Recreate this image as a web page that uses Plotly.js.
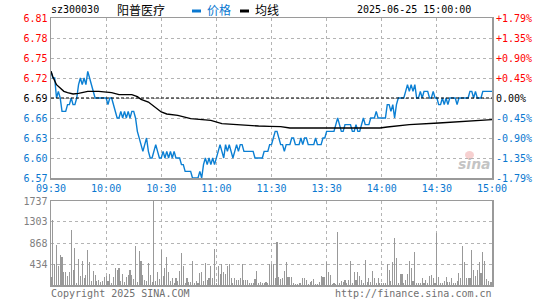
<!DOCTYPE html>
<html><head><meta charset="utf-8">
<script src="https://cdn.plot.ly/plotly-3.0.1.min.js"></script>
<style>html,body{margin:0;padding:0;background:#fff}#chart{width:545px;height:300px}</style>
</head><body><div id="chart"></div>
<script>
// ---------- data ----------
const timeLabels = ['09:30','10:00','10:30','11:00','11:30','13:30','14:00','14:30','15:00'];
const timeTickIdx = [0,30,60,90,120,150,180,210,240];
const prevClose = 6.69;
const priceTicks = [6.57,6.60,6.63,6.66,6.69,6.72,6.75,6.78,6.81];
const pctLabels = ['-1.79%','-1.35%','-0.90%','-0.45%','0.00%','+0.45%','+0.90%','+1.35%','+1.79%'];
const volTicks = [434,868,1303,1737];

const price = [
 6.73,6.72,6.72,6.69,6.70,6.69,6.67,6.67,6.67,6.68,
 6.68,6.69,6.68,6.68,6.69,6.71,6.72,6.71,6.72,6.71,
 6.73,6.72,6.71,6.70,6.69,6.69,6.69,6.69,6.69,6.69,
 6.69,6.68,6.69,6.69,6.68,6.67,6.66,6.66,6.67,6.66,
 6.67,6.66,6.67,6.66,6.67,6.67,6.66,6.64,6.63,6.62,
 6.61,6.62,6.63,6.61,6.60,6.60,6.61,6.62,6.61,6.60,
 6.60,6.61,6.60,6.61,6.60,6.61,6.60,6.61,6.60,6.60,
 6.60,6.59,6.59,6.58,6.58,6.58,6.58,6.57,6.57,6.57,
 6.57,6.58,6.57,6.59,6.60,6.59,6.60,6.59,6.60,6.59,
 6.60,6.61,6.62,6.61,6.60,6.62,6.61,6.62,6.61,6.60,
 6.61,6.62,6.61,6.62,6.62,6.61,6.61,6.61,6.61,6.61,
 6.61,6.60,6.60,6.60,6.60,6.60,6.61,6.61,6.61,6.62,
 6.62,6.63,6.64,6.64,6.63,6.62,6.62,6.61,6.62,6.62,
 6.62,6.63,6.63,6.62,6.62,6.62,6.63,6.62,6.63,6.63,
 6.62,6.62,6.62,6.62,6.63,6.62,6.62,6.62,6.63,6.63,
 6.64,6.64,6.64,6.64,6.64,6.65,6.66,6.65,6.64,6.64,
 6.65,6.65,6.65,6.65,6.64,6.64,6.65,6.64,6.64,6.65,
 6.66,6.65,6.65,6.65,6.66,6.66,6.66,6.67,6.66,6.66,
 6.66,6.66,6.66,6.68,6.68,6.67,6.68,6.66,6.68,6.69,
 6.69,6.69,6.69,6.70,6.71,6.70,6.71,6.70,6.71,6.69,
 6.69,6.70,6.69,6.70,6.70,6.70,6.69,6.69,6.70,6.69,
 6.69,6.68,6.68,6.69,6.68,6.69,6.68,6.69,6.69,6.69,
 6.69,6.68,6.69,6.69,6.69,6.69,6.69,6.69,6.70,6.70,
 6.69,6.70,6.69,6.69,6.69,6.70,6.70,6.70,6.70,6.70,
 6.70
];

const avgIdx = [0,1,3,5,7,9,12,15,18,20,26,33,37,44,47,49,53,56,59,60,63,69,76,87,93,105,113,119,125,130,179,183,195,211,229,240];
const avgVal = [6.73,6.722,6.71,6.705,6.70,6.698,6.696,6.697,6.699,6.70,6.70,6.698,6.695,6.695,6.692,6.688,6.684,6.678,6.672,6.669,6.666,6.664,6.659,6.6565,6.6515,6.649,6.648,6.6475,6.647,6.645,6.645,6.6465,6.650,6.6525,6.6555,6.6575];

const volume = [
 158,1350,434,827,400,620,585,262,276,180,
 276,1144,317,765,41,544,193,503,152,214,
 730,482,90,296,214,90,110,69,90,172,
 193,90,220,41,172,358,317,344,90,234,
 55,158,214,317,207,120,813,69,710,503,
 200,110,90,455,200,60,1737,90,276,124,
 730,180,344,585,276,90,138,41,138,90,
 296,661,386,41,152,69,55,496,41,90,
 41,248,262,90,450,110,152,400,150,744,
 41,386,220,434,276,220,400,434,138,41,
 138,110,110,152,434,110,110,110,41,41,
 41,124,296,41,69,41,41,69,41,434,
 434,440,150,880,158,124,138,296,468,158,
 172,172,41,21,21,41,41,152,138,110,
 21,69,90,124,21,21,69,193,158,158,
 482,262,214,21,41,21,1102,41,90,55,
 110,41,110,503,41,276,110,276,193,110,
 41,524,69,138,69,296,152,41,138,41,
 41,41,41,434,317,90,482,965,565,41,
 234,234,41,110,234,490,358,90,680,41,
 41,41,152,41,110,41,193,214,152,41,
 1075,172,41,41,90,172,69,69,152,41,
 41,90,248,150,813,482,138,152,138,730,
 317,193,317,482,248,689,503,120,90,60,
 60
];

// ---------- layout helpers (pixel -> paper) ----------
const W = 545, H = 300, ML = 51, MR = 53, MT = 18, MB = 15;
const PW = W - ML - MR, PH = H - MT - MB;
const px = x => (x - ML) / PW;
const py = y => (H - MB - y) / PH;

const RED = '#ff0000', BLUE = '#0a78d0', GRAY = '#808080';
const MONO = 'DejaVu Sans Mono, monospace';
const CJK = 'Noto Sans CJK SC, sans-serif';

const idx = price.map((_, i) => i);
const colorFor = v => v > prevClose + 1e-9 ? RED : (v < prevClose - 1e-9 ? BLUE : '#000');
const leftText = priceTicks.map(v => '<span style="color:' + colorFor(v) + '">' + v.toFixed(2) + '</span>');

const gridCommon = {gridcolor: '#b4b4b4', griddash: 'dot', gridwidth: 1, zeroline: false,
  showline: true, mirror: true, linecolor: '#9a9a9a', linewidth: 1.5, ticks: ''};

const traces = [
  {x: idx, y: price, type: 'scatter', mode: 'lines', xaxis: 'x', yaxis: 'y',
   line: {color: '#0b7fd3', width: 1.4}, hoverinfo: 'skip'},
  {x: avgIdx, y: avgVal, type: 'scatter', mode: 'lines', xaxis: 'x', yaxis: 'y',
   line: {color: '#000', width: 1.4}, hoverinfo: 'skip'},
  {x: idx, y: volume, type: 'bar', xaxis: 'x2', yaxis: 'y3', width: 0.6,
   marker: {color: '#999999', line: {width: 0}}, hoverinfo: 'skip'}
];

const pctAnnotations = priceTicks.map((v, k) => ({
  text: pctLabels[k], xref: 'paper', yref: 'y', x: px(494), y: v, xanchor: 'left', yanchor: 'middle',
  showarrow: false, font: {family: MONO, size: 10, color: colorFor(v)}
}));

const layout = {
  width: W, height: H, margin: {l: ML, r: MR, t: MT, b: MB},
  paper_bgcolor: '#fff', plot_bgcolor: '#fff', showlegend: false, bargap: 0,
  font: {family: MONO, size: 10, color: '#000'},
  xaxis: Object.assign({}, gridCommon, {domain: [0, 1], anchor: 'y', range: [0, 240],
    tickmode: 'array', tickvals: timeTickIdx, ticktext: timeLabels,
    tickfont: {family: MONO, size: 10, color: BLUE}}),
  yaxis: Object.assign({}, gridCommon, {domain: [py(178), 1], anchor: 'x', range: [6.57, 6.81],
    tickmode: 'array', tickvals: priceTicks, ticktext: leftText,
    tickfont: {family: MONO, size: 10}}),
  xaxis2: Object.assign({}, gridCommon, {domain: [0, 1], anchor: 'y3', matches: 'x', range: [0, 240],
    tickmode: 'array', tickvals: timeTickIdx, showticklabels: false}),
  yaxis3: Object.assign({}, gridCommon, {domain: [0, py(201)], anchor: 'x2', range: [0, 1737],
    tickmode: 'array', tickvals: volTicks, ticktext: volTicks.map(String),
    tickfont: {family: MONO, size: 10, color: GRAY}}),
  shapes: [
    {type: 'line', xref: 'x', yref: 'y', x0: 0, x1: 240, y0: prevClose, y1: prevClose,
     line: {color: '#000', width: 1.2, dash: '3px,2px'}},
    {type: 'rect', xref: 'paper', yref: 'paper', x0: px(192), x1: px(201), y0: py(12.5), y1: py(9.5),
     fillcolor: BLUE, line: {width: 0}},
    {type: 'rect', xref: 'paper', yref: 'paper', x0: px(240), x1: px(249), y0: py(12.5), y1: py(9.5),
     fillcolor: '#000', line: {width: 0}},
    {type: 'circle', xref: 'paper', yref: 'paper', x0: px(465), x1: px(474), y0: py(159), y1: py(151),
     fillcolor: 'rgba(235,150,150,0.45)', line: {width: 0}}
  ],
  annotations: pctAnnotations.concat([
    {text: 'sz300030', xref: 'paper', yref: 'paper', x: px(49), y: py(10), xanchor: 'left', yanchor: 'middle',
     showarrow: false, font: {family: MONO, size: 10, color: '#000'}},
    {text: '阳普医疗', xref: 'paper', yref: 'paper', x: px(115), y: py(10), xanchor: 'left', yanchor: 'middle',
     showarrow: false, font: {family: CJK, size: 12, color: '#000'}},
    {text: '价格', xref: 'paper', yref: 'paper', x: px(205), y: py(10), xanchor: 'left', yanchor: 'middle',
     showarrow: false, font: {family: CJK, size: 12, color: BLUE}},
    {text: '均线', xref: 'paper', yref: 'paper', x: px(253), y: py(10), xanchor: 'left', yanchor: 'middle',
     showarrow: false, font: {family: CJK, size: 12, color: '#000'}},
    {text: '2025-06-25 15:00:00', xref: 'paper', yref: 'paper', x: px(473), y: py(10), xanchor: 'right', yanchor: 'middle',
     showarrow: false, font: {family: MONO, size: 10, color: '#000'}},
    {text: 'Copyright 2025 SINA.COM', xref: 'paper', yref: 'paper', x: px(49), y: py(293), xanchor: 'left', yanchor: 'middle',
     showarrow: false, font: {family: MONO, size: 10, color: '#707070'}},
    {text: 'http://finance.sina.com.cn', xref: 'paper', yref: 'paper', x: px(494), y: py(293), xanchor: 'right', yanchor: 'middle',
     showarrow: false, font: {family: MONO, size: 10, color: '#707070'}},
    {text: '<b><i>sina</i></b>', xref: 'paper', yref: 'paper', x: px(474), y: py(164), xanchor: 'center', yanchor: 'middle',
     showarrow: false, font: {family: 'DejaVu Sans, sans-serif', size: 14, color: 'rgba(170,170,170,0.7)'}}
  ])
};

Plotly.newPlot('chart', traces, layout, {staticPlot: true, displayModeBar: false});
</script>
</body></html>
